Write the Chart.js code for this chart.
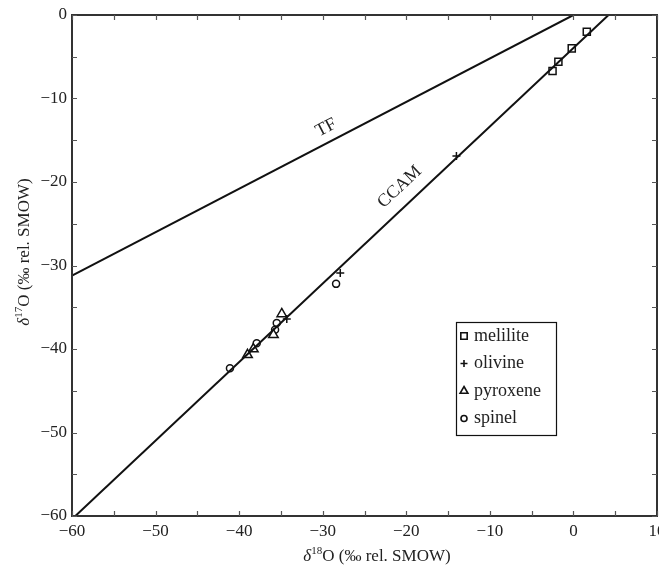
<!DOCTYPE html>
<html>
<head>
<meta charset="utf-8">
<script src="https://cdn.jsdelivr.net/npm/chart.js@4"></script>
<style>
  html, body { margin: 0; padding: 0; background: #fff; }
  canvas { display: block; }
</style>
</head>
<body>
<canvas id="chart" width="659" height="570"></canvas>
<script>
// Reference lines (end points)
const tfX = [-60, 0];
const tfY = [-31.2, 0];
const ccamX = [-59.6, 4.2];
const ccamY = [-60, 0];

// Mineral data, delta18O / delta17O
const meliliteX = [1.6, -0.2, -1.8, -2.5];
const meliliteY = [-2.0, -4.0, -5.6, -6.7];
const olivineX = [-14.0, -27.9, -34.3];
const olivineY = [-16.9, -30.9, -36.4];
const pyroxeneX = [-34.9, -35.9, -38.3, -39.0];
const pyroxeneY = [-35.8, -38.3, -40.0, -40.7];
const spinelX = [-28.4, -35.5, -35.7, -37.9, -41.1];
const spinelY = [-32.2, -36.9, -37.7, -39.3, -42.3];

const xTicks = [-60, -50, -40, -30, -20, -10, 0, 10];
const yTicks = [0, -10, -20, -30, -40, -50, -60];

const SERIF = "'Liberation Serif', 'Times New Roman', serif";

function toPoints(xs, ys) {
    return xs.map((x, i) => ({ x: x, y: ys[i] }));
}

function minus(v) {
    return String(v).replace('-', '\u2212');
}

const markers = [
    { label: 'melilite', xs: meliliteX, ys: meliliteY, style: 'rect', radius: 5, legendRadius: 4.5 },
    { label: 'olivine', xs: olivineX, ys: olivineY, style: 'cross', radius: 4, legendRadius: 3.5 },
    { label: 'pyroxene', xs: pyroxeneX, ys: pyroxeneY, style: 'triangle', radius: 5.5, legendRadius: 4.5 },
    { label: 'spinel', xs: spinelX, ys: spinelY, style: 'circle', radius: 3.5, legendRadius: 3 }
];

const lineDatasets = [
    { label: 'TF', data: toPoints(tfX, tfY) },
    { label: 'CCAM', data: toPoints(ccamX, ccamY) }
].map(d => ({
    label: d.label,
    data: d.data,
    showLine: true,
    borderColor: '#111',
    borderWidth: 2,
    pointRadius: 0,
    fill: false
}));

const markerDatasets = markers.map(m => ({
    label: m.label,
    data: toPoints(m.xs, m.ys),
    pointStyle: m.style,
    pointRadius: m.radius,
    pointBackgroundColor: '#fff',
    pointBorderColor: '#111',
    pointBorderWidth: 1.5,
    showLine: false
}));

// frame, inward ticks, line labels, axis titles and legend
const decorations = {
    id: 'decorations',
    afterDraw(chart) {
        const ctx = chart.ctx;
        const a = chart.chartArea;
        const xs = chart.scales.x;
        const ys = chart.scales.y;
        ctx.save();

        // frame
        ctx.strokeStyle = '#333';
        ctx.lineWidth = 2;
        ctx.strokeRect(a.left, a.top, a.right - a.left, a.bottom - a.top);

        // inward ticks every 5 units
        ctx.lineWidth = 1.2;
        ctx.strokeStyle = '#555';
        ctx.beginPath();
        for (let v = -60; v <= 10; v += 5) {
            const px = Math.round(xs.getPixelForValue(v)) + 0.5;
            ctx.moveTo(px, a.bottom); ctx.lineTo(px, a.bottom - 5);
            ctx.moveTo(px, a.top); ctx.lineTo(px, a.top + 5);
        }
        for (let v = -60; v <= 0; v += 5) {
            const py = Math.round(ys.getPixelForValue(v)) + 0.5;
            ctx.moveTo(a.left, py); ctx.lineTo(a.left + 5, py);
            ctx.moveTo(a.right, py); ctx.lineTo(a.right - 5, py);
        }
        ctx.stroke();

        // line labels
        ctx.fillStyle = '#222';
        ctx.font = '18px ' + SERIF;
        ctx.textAlign = 'center';
        ctx.textBaseline = 'middle';
        const lineLabels = [
            { text: 'TF', x: -29.6, y: -13.5, angle: -27.5 },
            { text: 'CCAM', x: -20.8, y: -20.6, angle: -43 }
        ];
        lineLabels.forEach(l => {
            ctx.save();
            ctx.translate(xs.getPixelForValue(l.x), ys.getPixelForValue(l.y));
            ctx.rotate(l.angle * Math.PI / 180);
            ctx.fillText(l.text, 0, 0);
            ctx.restore();
        });

        // axis titles with superscripts
        drawIsoTitle(ctx, '18', 377, 557, 0);
        drawIsoTitle(ctx, '17', 25, 252, -Math.PI / 2);

        // legend
        const lx = 456, ly = 322, lw = 100, lh = 113;
        ctx.fillStyle = '#fff';
        ctx.fillRect(lx, ly, lw, lh);
        ctx.strokeStyle = '#111';
        ctx.lineWidth = 1.2;
        ctx.strokeRect(lx + 0.5, ly + 0.5, lw, lh);
        ctx.textAlign = 'left';
        ctx.textBaseline = 'middle';
        ctx.font = '18px ' + SERIF;
        markers.forEach((m, i) => {
            const cy = ly + 14 + i * 27.5;
            ctx.strokeStyle = '#111';
            ctx.fillStyle = '#fff';
            ctx.lineWidth = 1.6;
            Chart.helpers.drawPoint(ctx, {
                pointStyle: m.style,
                rotation: 0,
                radius: m.legendRadius,
                borderWidth: 1.6
            }, lx + 8, cy);
            ctx.fillStyle = '#222';
            ctx.fillText(m.label, lx + 18, cy);
        });

        ctx.restore();
    }
};

function drawIsoTitle(ctx, mass, cx, cy, angle) {
    const parts = [
        { text: '\u03b4', font: 'italic 17px ' + SERIF, dy: 0 },
        { text: mass, font: '11px ' + SERIF, dy: -6 },
        { text: 'O (\u2030 rel. SMOW)', font: '17px ' + SERIF, dy: 0 }
    ];
    let total = 0;
    parts.forEach(p => { ctx.font = p.font; p.w = ctx.measureText(p.text).width; total += p.w; });
    ctx.save();
    ctx.translate(cx, cy);
    ctx.rotate(angle);
    ctx.fillStyle = '#222';
    ctx.textAlign = 'left';
    ctx.textBaseline = 'middle';
    let x = -total / 2;
    parts.forEach(p => {
        ctx.font = p.font;
        ctx.fillText(p.text, x, p.dy);
        x += p.w;
    });
    ctx.restore();
}

const ctx = document.getElementById('chart').getContext('2d');
new Chart(ctx, {
    type: 'scatter',
    data: { datasets: lineDatasets.concat(markerDatasets) },
    options: {
        responsive: false,
        devicePixelRatio: 1,
        animation: false,
        layout: { autoPadding: false, padding: { left: 0, top: 15, right: 2, bottom: 0 } },
        plugins: {
            legend: { display: false },
            tooltip: { enabled: false }
        },
        scales: {
            x: {
                type: 'linear',
                min: -60,
                max: 10,
                afterFit: s => { s.height = 54; s.paddingLeft = 0; s.paddingRight = 0; },
                afterBuildTicks: s => { s.ticks = xTicks.map(v => ({ value: v })); },
                grid: { display: false, drawTicks: false },
                border: { display: false },
                ticks: {
                    padding: 5,
                    color: '#222',
                    font: { family: SERIF, size: 17 },
                    callback: v => minus(v)
                }
            },
            y: {
                type: 'linear',
                min: -60,
                max: 0,
                afterFit: s => { s.width = 72; s.paddingTop = 0; s.paddingBottom = 0; },
                afterBuildTicks: s => { s.ticks = yTicks.map(v => ({ value: v })); },
                grid: { display: false, drawTicks: false },
                border: { display: false },
                ticks: {
                    padding: 5,
                    color: '#222',
                    font: { family: SERIF, size: 17 },
                    callback: v => minus(v)
                }
            }
        }
    },
    plugins: [decorations]
});
</script>
</body>
</html>
